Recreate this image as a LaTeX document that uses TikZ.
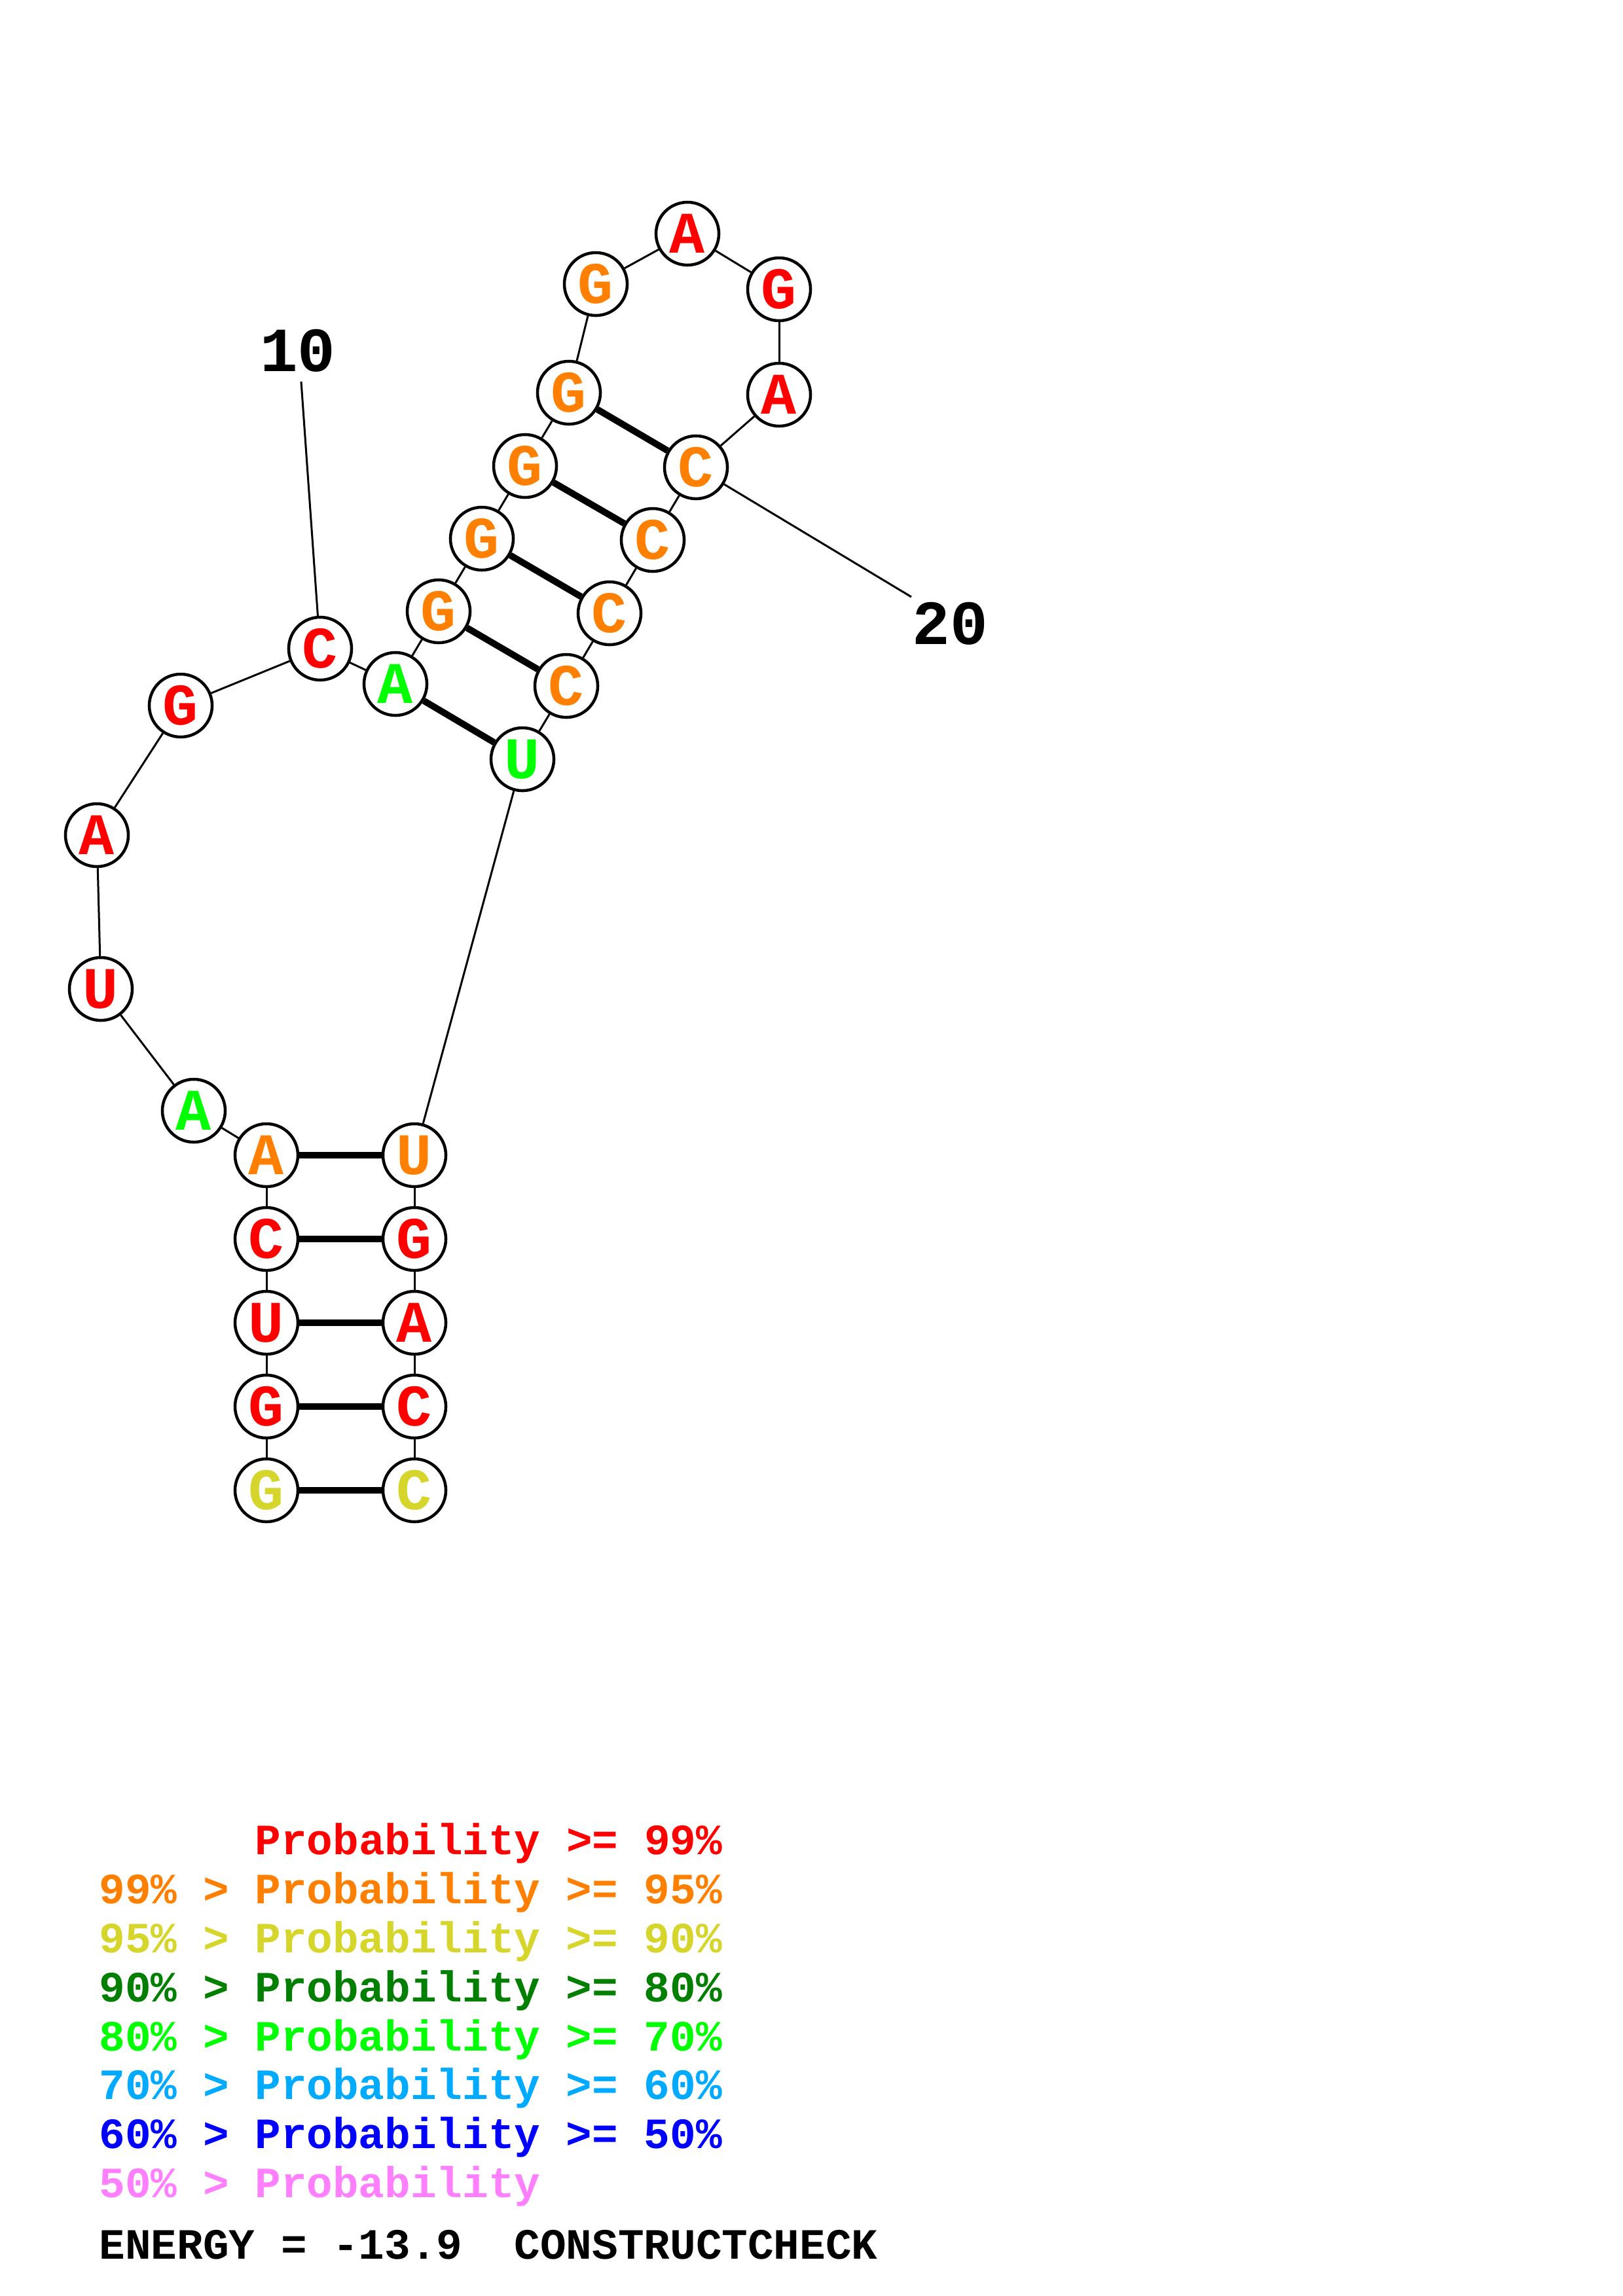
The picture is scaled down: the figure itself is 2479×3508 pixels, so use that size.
\documentclass[tikz,border=0pt]{standalone}
\usepackage{fontspec}
\newfontfamily\cour{Liberation Mono}
\definecolor{pred}{RGB}{255,0,0}
\definecolor{porange}{RGB}{255,128,0}
\definecolor{pyellow}{RGB}{213,213,43}
\definecolor{pdgreen}{RGB}{0,127,0}
\definecolor{pgreen}{RGB}{0,255,0}
\definecolor{plblue}{RGB}{0,170,255}
\definecolor{pblue}{RGB}{0,0,255}
\definecolor{ppink}{RGB}{255,128,255}
\begin{document}
\begin{tikzpicture}[x=0.01cm,y=-0.01cm,
  nt/.style={circle,draw=black,fill=white,line width=0.045cm,minimum size=0.96cm,inner sep=0pt,
    font=\cour\bfseries\fontsize{0.9cm}{1cm}\selectfont},
  bb/.style={line width=0.03cm},
  bp/.style={line width=0.1cm},
  lab/.style={inner sep=0pt,font=\cour\bfseries\fontsize{0.96cm}{1.1cm}\selectfont},
  leg/.style={anchor=base west,inner sep=0pt,font=\cour\bfseries\fontsize{0.66cm}{0.75cm}\selectfont}]
\useasboundingbox (0,0) rectangle (2479,3508);
% nucleotides
\node[nt,text=pyellow] (n1) at (407,2277) {G};
\node[nt,text=pred] (n2) at (407,2149) {G};
\node[nt,text=pred] (n3) at (407,2021) {U};
\node[nt,text=pred] (n4) at (407,1893) {C};
\node[nt,text=porange] (n5) at (407,1765) {A};
\node[nt,text=pgreen] (n6) at (296,1697) {A};
\node[nt,text=pred] (n7) at (154,1511) {U};
\node[nt,text=pred] (n8) at (148,1276) {A};
\node[nt,text=pred] (n9) at (276,1078) {G};
\node[nt,text=pred] (n10) at (489,991) {C};
\node[nt,text=pgreen] (n11) at (604,1045) {A};
\node[nt,text=porange] (n12) at (670,934) {G};
\node[nt,text=porange] (n13) at (736,823) {G};
\node[nt,text=porange] (n14) at (802,712) {G};
\node[nt,text=porange] (n15) at (869,600) {G};
\node[nt,text=porange] (n16) at (910,434) {G};
\node[nt,text=pred] (n17) at (1050,357) {A};
\node[nt,text=pred] (n18) at (1190,442) {G};
\node[nt,text=pred] (n19) at (1190,603) {A};
\node[nt,text=porange] (n20) at (1063,714) {C};
\node[nt,text=porange] (n21) at (997,825) {C};
\node[nt,text=porange] (n22) at (931,937) {C};
\node[nt,text=porange] (n23) at (865,1048) {C};
\node[nt,text=pgreen] (n24) at (798,1160) {U};
\node[nt,text=porange] (n25) at (633,1765) {U};
\node[nt,text=pred] (n26) at (633,1893) {G};
\node[nt,text=pred] (n27) at (633,2021) {A};
\node[nt,text=pred] (n28) at (633,2149) {C};
\node[nt,text=pyellow] (n29) at (633,2277) {C};
% backbone
\foreach \a/\b in {1/2,2/3,3/4,4/5,5/6,6/7,7/8,8/9,9/10,10/11,11/12,12/13,13/14,14/15,15/16,16/17,17/18,18/19,19/20,20/21,21/22,22/23,23/24,24/25,25/26,26/27,27/28,28/29}
  \draw[bb] (n\a) -- (n\b);
% pairs
\foreach \a/\b in {1/29,2/28,3/27,4/26,5/25,11/24,12/23,13/22,14/21,15/20}
  \draw[bp] (n\a) -- (n\b);
% number labels
\node[lab] (l10) at (455,536) {10};
\coordinate (t10) at (460,583);
\draw[bb] (t10) -- (n10);
\node[lab] (l20) at (1451,953) {20};
\coordinate (t20) at (1392,912);
\draw[bb] (n20) -- (t20);
% legend
\node[leg,text=pred] (g1) at (389,2833) {Probability >= 99\%};
\node[leg,text=porange] (g2) at (151,2908) {99\% > Probability >= 95\%};
\node[leg,text=pyellow] (g3) at (151,2983) {95\% > Probability >= 90\%};
\node[leg,text=pdgreen] (g4) at (151,3058) {90\% > Probability >= 80\%};
\node[leg,text=pgreen] (g5) at (151,3133) {80\% > Probability >= 70\%};
\node[leg,text=plblue] (g6) at (151,3207) {70\% > Probability >= 60\%};
\node[leg,text=pblue] (g7) at (151,3282) {60\% > Probability >= 50\%};
\node[leg,text=ppink] (g8) at (151,3357) {50\% > Probability};
\node[leg,text=black] (en) at (151,3451) {ENERGY = -13.9\ \ CONSTRUCTCHECK};
\end{tikzpicture}
\end{document}
